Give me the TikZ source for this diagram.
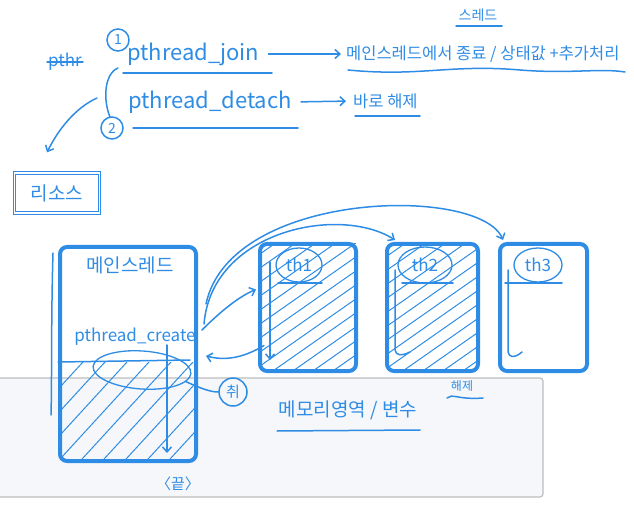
\documentclass[tikz,border=0pt]{standalone}
\usepackage{fontspec}
\newfontfamily\kr{Noto Sans CJK KR}
\usetikzlibrary{arrows.meta,calc,shapes.geometric}
\definecolor{pen}{HTML}{2F8CE5}
\definecolor{panelfill}{HTML}{F5F7FA}
\definecolor{panelline}{HTML}{BDBDBD}
\tikzset{
  ink/.style={draw=pen, line width=1.5pt, line cap=round, line join=round},
  thin ink/.style={draw=pen, line width=1pt, line cap=round},
  tip/.style={-{Straight Barb[length=5pt,width=9pt]}},
  lbl/.style={text=pen, inner sep=1pt, font=\kr\fontsize{#1}{#1}\selectfont},
  thbox/.style={draw=pen, line width=4pt, rounded corners=7pt, inner sep=0pt},
  num/.style={circle, draw=pen, line width=1.5pt, minimum size=22pt, inner sep=0pt, text=pen, font=\kr\fontsize{14}{14}\selectfont},
  oval/.style={ellipse, draw=pen, line width=1.3pt, inner sep=0pt},
}
\begin{document}
\begin{tikzpicture}[x=1pt,y=-1pt]
\useasboundingbox (0,0) rectangle (634,510);
% memory panel
\draw[draw=panelline, fill=panelfill, line width=1.2pt, rounded corners=3pt] (-5,378) rectangle (543,497);

% ---------- top part ----------
\node[lbl=17] (strike) at (65,62) {pthr};
\draw[ink] (strike.west) -- (strike.east);
\node[num] (n1) at (118,40) {1};
\node[lbl=22, anchor=west] (join) at (126,54) {pthread\_join};
\draw[ink] (123,73) -- (272,73);
\node[lbl=16.5, anchor=west] (res1) at (345,54) {메인스레드에서 종료 / 상태값 +추가처리};
\draw[ink,tip,shorten <=8pt,shorten >=4pt] (join.east) -- (res1.west);
\node[lbl=14, anchor=south] (thr) at (478,23) {스레드};
\draw[ink] (456,26) -- (502,26);
\draw[ink] (348,70) .. controls (420,77) and (450,64) .. (520,70) .. controls (570,74) and (600,68) .. (625,72);

\draw[ink] (118,68) .. controls (104,74) and (103,100) .. (110,117);
\node[num] (n2) at (112,128) {2};
\node[lbl=22, anchor=west] (det) at (127,102) {pthread\_detach};
\draw[ink] (133,128) -- (298,128);
\node[lbl=16.5, anchor=west] (res2) at (352,101) {바로 해제};
\draw[ink,tip,shorten <=8pt,shorten >=6pt] (det.east) -- (res2.west);
\draw[ink] (355,116) -- (420,116);

\node[draw=pen, line width=1.3pt, double=white, double distance=1.2pt, minimum width=85pt, minimum height=40pt, lbl=19] (rsrc) at (57,193) {리소스};
\coordinate (bstart) at (97,98);
\draw[ink,tip] (bstart) .. controls (75,108) and (58,130) .. ($(rsrc.north)+(-10,-20)$);

% ---------- main thread ----------
\node[thbox, minimum width=136pt, minimum height=214pt] (main) at (128,354) {};
\begin{scope}
  \clip (60,362) rectangle (196,461);
  \foreach \k in {0,22,...,264} \draw[thin ink] (\k-60,470) -- ++(110,-120);
\end{scope}
\draw[ink] (58,362) -- (190,360);
\node[oval, minimum width=98pt, minimum height=38pt, rotate=-4] (ell) at (142,370) {};
\node[lbl=19] (mainlbl) at (130,265) {메인스레드};
\node[lbl=17] (create) at (135,337) {pthread\_create};
\draw[ink,tip] (167,345) -- (167,453);
\node[lbl=15] (end) at (178,484) {〈끝〉};
\draw[ink] (53,253) .. controls (51,320) and (52,380) .. (51,415);
\node[circle, draw=pen, line width=1.5pt, minimum size=28pt, inner sep=0pt, lbl=15] (chw) at (233,392) {취};
\draw[ink] ($(ell.east)+(-6,8)$) .. controls (200,388) and (210,392) .. (chw.west);

% ---------- worker threads ----------
\node[thbox, minimum width=96pt, minimum height=127pt] (th1) at (308,307.5) {};
\node[thbox, minimum width=91pt, minimum height=127pt] (th2) at (432.5,307.5) {};
\node[thbox, minimum width=87pt, minimum height=127pt] (th3) at (543.5,307.5) {};
\begin{scope}
  \clip (260,244) rectangle (356,371);
  \foreach \k in {60,80,...,360} \draw[thin ink] (\k,380) -- ++(220,-154);
\end{scope}
\begin{scope}
  \clip (387,244) rectangle (478,371);
  \foreach \k in {190,210,...,480} \draw[thin ink] (\k,380) -- ++(220,-154);
\end{scope}
\node[oval, minimum width=46pt, minimum height=34pt, lbl=17] (l1) at (299,265) {th1};
\node[oval, minimum width=54pt, minimum height=36pt, lbl=17] (l2) at (425,265) {th2};
\node[oval, minimum width=48pt, minimum height=34pt, lbl=17] (l3) at (538,265) {th3};
\draw[ink] (278,283) -- (322,283);
\draw[ink] (402,283) -- (453,283);
\draw[ink] (505,283) -- (562,283);
\draw[ink,tip] (270,262) -- (270,360);
\draw[ink] (395,270) -- (395,350) .. controls (396,356) and (402,356) .. (410,352);
\draw[ink] (508,270) -- (508,352) .. controls (509,358) and (515,358) .. (522,352);

% connectors between threads
\draw[ink,tip] ($(main.east)+(4,-24)$) .. controls (222,310) and (240,296) .. ($(th1.west)+(-2,-18)$);
\draw[ink,tip] ($(th1.west)+(6,38)$) .. controls (240,360) and (222,360) .. ($(main.east)+(8,2)$);
\draw[ink,tip] ($(main.east)+(6,-30)$) .. controls (212,230) and (340,205) .. ($(th2.north west)+(10,-2)$);
\draw[ink,tip] ($(main.east)+(8,-50)$) .. controls (230,190) and (480,185) .. ($(th3.north west)+(5,-2)$);

% memory labels
\node[lbl=19] (mem) at (348,410) {메모리영역 / 변수};
\draw[ink] (277,431) -- (420,430);
\node[lbl=12] (free) at (462,386) {해제};
\draw[ink] (447,398) .. controls (452,393) and (458,400) .. (483,398);
\end{tikzpicture}
\end{document}
